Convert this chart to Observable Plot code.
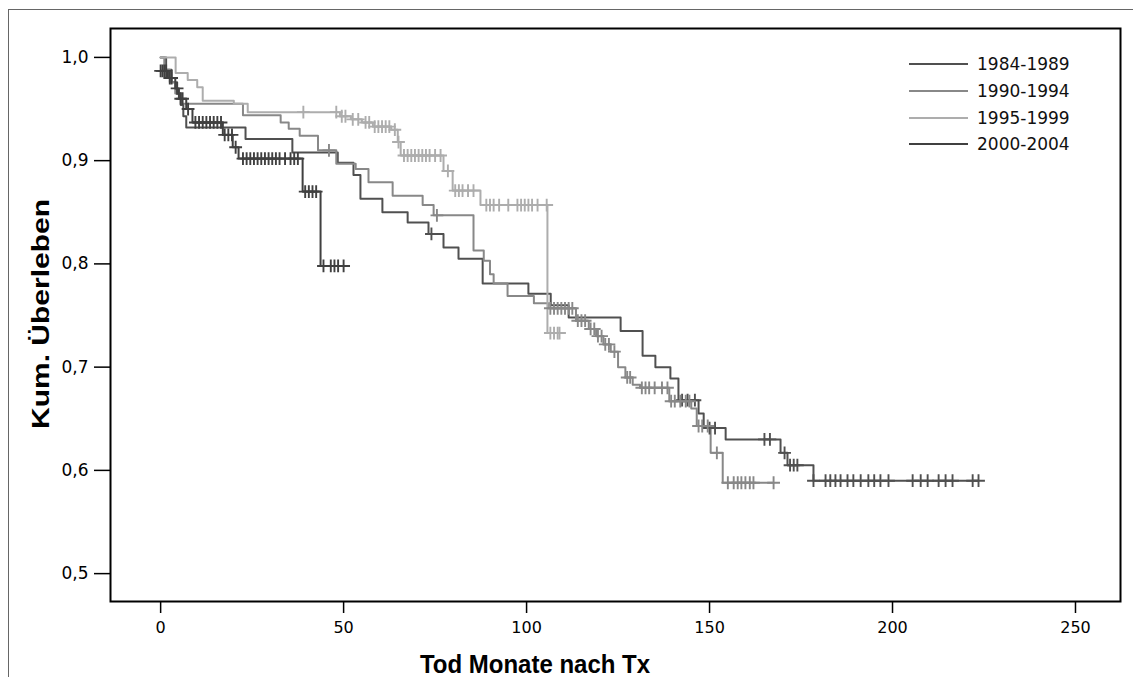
<!DOCTYPE html>
<html><head><meta charset="utf-8">
<script src="https://cdn.jsdelivr.net/npm/d3@7"></script>
<script src="https://cdn.jsdelivr.net/npm/@observablehq/plot@0.6"></script>
<style>
body{margin:0;background:#fff;}
#wrap{position:relative;width:1133px;height:677px;overflow:hidden;background:#fff;}
#outer{position:absolute;left:8px;top:9px;width:1200px;height:700px;border-top:1.5px solid #666;border-left:1.5px solid #666;}
#chart{position:absolute;left:0;top:0;}
.title{position:absolute;font-family:"Liberation Sans",Arial,sans-serif;font-weight:bold;color:#000;white-space:nowrap;}
#xt{left:535px;top:664px;transform:translate(-50%,-50%) scaleY(1.1);font-size:24px;}
#yt{left:41px;top:314px;transform:translate(-50%,-50%) rotate(-90deg) scaleX(1.25);font-size:24px;}
#legend{position:absolute;left:909px;top:51px;font-family:"DejaVu Sans",sans-serif;font-size:17px;color:#111;}
.row{display:flex;align-items:center;height:26.7px;}
.sw{width:59px;height:0;margin-right:9px;}
</style></head>
<body>
<div id="wrap">
  <div id="outer"></div>
  <div id="chart"></div>
  <div class="title" id="xt">Tod Monate nach Tx</div>
  <div class="title" id="yt">Kum. Überleben</div>
  <div id="legend"></div>
</div>
<script>
// ---- data ----
const groups = ["1984-1989", "1990-1994", "1995-1999", "2000-2004"];
const xTicks = [0, 50, 100, 150, 200, 250];
const yTicks = [0.5, 0.6, 0.7, 0.8, 0.9, 1.0];

// step curves: times and survival after each step
const t8489 = [0, 1.5, 3, 4.5, 5.5, 6.2, 7, 23.2, 36, 48.4, 52.7, 54.6, 60.6, 67.5, 73.2, 77.3, 81.4, 88, 100.5, 106.6, 111.5, 125.7, 131.7, 135.2, 139.3, 141.5, 147, 148.4, 154.4, 169.4, 171.3, 178.4, 223.5];
const s8489 = [1.0, 0.988, 0.976, 0.965, 0.954, 0.943, 0.932, 0.921, 0.908, 0.898, 0.886, 0.863, 0.85, 0.84, 0.829, 0.816, 0.805, 0.781, 0.771, 0.76, 0.748, 0.735, 0.711, 0.70, 0.689, 0.668, 0.655, 0.641, 0.63, 0.617, 0.605, 0.59, 0.59];
const c8489 = [74, 142.5, 144, 146, 150, 151.5, 165, 166.5, 170.5, 172, 173, 174, 178.4, 181.7, 183, 184.4, 185.8, 187.7, 189.3, 191.3, 193.4, 195, 196.7, 198.9, 205.5, 207.7, 209.6, 212.6, 214.5, 216.4, 221.9, 223.5];

const t9094 = [0, 1, 2.5, 4, 5.5, 22.5, 32.8, 35, 38, 43, 48, 53.3, 56.8, 63.4, 71.6, 74.6, 85.5, 88.3, 90, 91, 94.8, 102, 106, 113.5, 117, 119, 121, 123, 125, 127, 129, 131, 139, 145, 146.5, 150.3, 153.6, 167.5];
const s9094 = [1.0, 0.988, 0.976, 0.965, 0.955, 0.944, 0.937, 0.931, 0.924, 0.91, 0.897, 0.892, 0.879, 0.866, 0.857, 0.847, 0.813, 0.803, 0.79, 0.781, 0.769, 0.762, 0.757, 0.745, 0.737, 0.73, 0.722, 0.715, 0.70, 0.69, 0.683, 0.68, 0.667, 0.66, 0.643, 0.617, 0.588, 0.588];
const c9094 = [46, 75.5, 106.5, 107.5, 108.5, 109.5, 110.5, 111.5, 112.5, 114, 115, 116, 117.5, 118.5, 119.5, 120.5, 121.5, 122.5, 124, 127.5, 128.3, 131.5, 132.5, 133.5, 135, 137, 138.5, 139.5, 140.5, 142, 143.5, 144.5, 147, 148, 149.5, 152, 155, 156.6, 157.7, 158.7, 159.8, 161, 162, 167.5];

const t9599 = [0, 4.1, 7.4, 10, 11.5, 20, 23.8, 49, 52, 55, 58, 63, 64.8, 65.6, 77.3, 79.8, 87.4, 105.7, 109];
const s9599 = [1.0, 0.985, 0.978, 0.971, 0.958, 0.955, 0.947, 0.943, 0.94, 0.937, 0.933, 0.93, 0.918, 0.905, 0.89, 0.871, 0.857, 0.733, 0.733];
const c9599 = [39, 48, 49.5, 50.5, 52.5, 54, 56, 57, 58.5, 59.5, 60.5, 61.5, 62.5, 64, 65, 66.5, 67.5, 68.5, 69.5, 70.5, 71.5, 72.5, 73.5, 75, 76.5, 78.5, 80.5, 81.5, 82.5, 84, 85.5, 89, 90, 91, 92.5, 95, 97.5, 98.5, 99.5, 100.5, 101.5, 103, 105.5, 106.5, 107.5, 108.5, 109];

const t0004 = [0, 2, 4, 5, 7, 8.7, 17, 19.7, 21.3, 38.8, 43.7, 50];
const s0004 = [0.987, 0.98, 0.97, 0.96, 0.95, 0.937, 0.925, 0.913, 0.902, 0.87, 0.798, 0.798];
const c0004 = [0, 0.5, 1, 1.5, 2.5, 3, 4.5, 5.5, 6, 7.5, 9.5, 10.5, 11.5, 12.5, 13.5, 14.5, 15.5, 16.5, 17.5, 18.5, 19.5, 20.5, 22.5, 23.5, 24.5, 25.5, 26.5, 27.5, 28.5, 29.5, 30.5, 31.5, 32.5, 34, 35.5, 36.5, 37.5, 39.5, 40.5, 41.5, 42.5, 44.5, 46.5, 47.5, 48.5, 50];

const colors = ["#505050", "#888888", "#adadad", "#404040"];

// ---- build tables ----
const series = [[t8489, s8489, c8489], [t9094, s9094, c9094], [t9599, s9599, c9599], [t0004, s0004, c0004]];
const steps = [], cens = [];
series.forEach(([ts, ss, cs], i) => {
  const g = groups[i];
  ts.forEach((t, j) => steps.push({g, t, s: ss[j]}));
  cs.forEach(t => {
    let v = ss[0];
    for (let j = 0; j < ts.length; j++) if (ts[j] <= t) v = ss[j];
    cens.push({g, t, s: v});
  });
});

const fmt = d => d.toFixed(1).replace(".", ",");

const plot = Plot.plot({
  width: 1133, height: 677,
  marginLeft: 110, marginRight: 13, marginTop: 28, marginBottom: 76,
  style: {fontFamily: "'DejaVu Sans', sans-serif", fontSize: "16px", color: "#000", background: "transparent"},
  x: {domain: [-13.7, 262.3]},
  y: {domain: [0.473, 1.028]},
  color: {domain: groups, range: colors},
  marks: [
    Plot.axisX({ticks: xTicks, tickSize: 12, tickPadding: 8, label: null, strokeWidth: 1.5, fontSize: 16}),
    Plot.axisY({ticks: yTicks, tickSize: 16, tickPadding: 6, tickFormat: fmt, label: null, strokeWidth: 1.5, fontSize: 17}),
    Plot.line(steps, {x: "t", y: "s", z: "g", stroke: "g", curve: "step-after", strokeWidth: 2}),
    Plot.dot(cens, {x: "t", y: "s", stroke: "g", symbol: "plus", r: 4.2, strokeWidth: 1.9}),
    Plot.frame({stroke: "#000", strokeWidth: 2})
  ]
});
document.getElementById("chart").appendChild(plot);

// legend
const leg = document.getElementById("legend");
const lw = [2, 2, 2, 2.5];
groups.forEach((g, i) => {
  const row = document.createElement("div");
  row.className = "row";
  row.innerHTML = `<div class="sw" style="border-top:${lw[i]}px solid ${colors[i]}"></div><span>${g}</span>`;
  leg.appendChild(row);
});
</script>
</body></html>
